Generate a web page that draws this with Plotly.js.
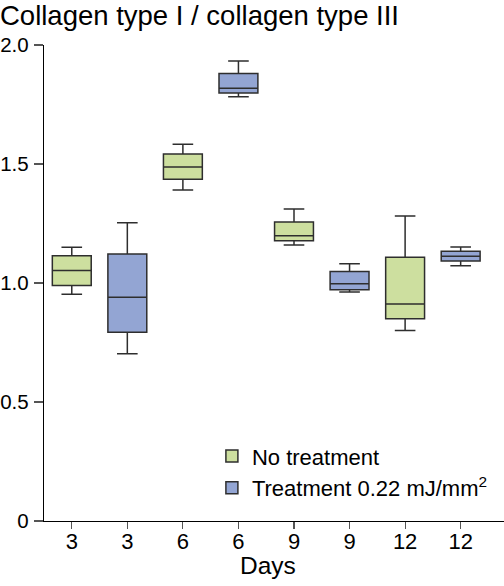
<!DOCTYPE html>
<html>
<head>
<meta charset="utf-8">
<script src="https://cdn.plot.ly/plotly-3.0.1.min.js"></script>
<style>html,body{margin:0;padding:0;background:#fff;}#chart{width:504px;height:586px;}</style>
</head>
<body>
<div id="chart"></div>
<script>
// Categories (one box per slot) and which group each slot belongs to
const dayLabels = ["3", "3", "6", "6", "9", "9", "12", "12"];
const slotGroup = ["none", "treat", "none", "treat", "none", "treat", "none", "treat"];

// No treatment (days 3, 6, 9, 12)
const noneLower  = [0.953, 1.391, 1.160, 0.800];
const noneQ1     = [0.990, 1.436, 1.178, 0.850];
const noneMedian = [1.053, 1.487, 1.199, 0.912];
const noneQ3     = [1.115, 1.542, 1.256, 1.108];
const noneUpper  = [1.150, 1.583, 1.311, 1.282];

// Treatment 0.22 mJ/mm2 (days 3, 6, 9, 12)
const treatLower  = [0.703, 1.783, 0.962, 1.073];
const treatQ1     = [0.793, 1.798, 0.972, 1.092];
const treatMedian = [0.940, 1.818, 0.997, 1.112];
const treatQ3     = [1.122, 1.880, 1.048, 1.133];
const treatUpper  = [1.253, 1.933, 1.081, 1.151];

const yTickVals = [0, 0.5, 1.0, 1.5, 2.0];
const yTickText = ["0", "0.5", "1.0", "1.5", "2.0"];

const slots = dayLabels.map((d, i) => i);
const xNone = slots.filter(i => slotGroup[i] === "none");
const xTreat = slots.filter(i => slotGroup[i] === "treat");

const FONT = "Liberation Sans, Arial, Helvetica, sans-serif";

const common = {
  type: "box",
  width: 0.7,
  whiskerwidth: 0.53,
  boxpoints: false,
  hoverinfo: "skip"
};

const traces = [
  Object.assign({}, common, {
    name: "No treatment",
    x: xNone,
    lowerfence: noneLower, q1: noneQ1, median: noneMedian, q3: noneQ3, upperfence: noneUpper,
    fillcolor: "#cddf9f",
    line: {color: "#2e2e2e", width: 1.5}
  }),
  Object.assign({}, common, {
    name: "Treatment 0.22 mJ/mm<sup>2</sup>",
    x: xTreat,
    lowerfence: treatLower, q1: treatQ1, median: treatMedian, q3: treatQ3, upperfence: treatUpper,
    fillcolor: "#93a5d3",
    line: {color: "#2e2e2e", width: 1.5}
  })
];

const layout = {
  width: 504, height: 586,
  margin: {l: 44, r: 0, t: 45, b: 65, autoexpand: false},
  paper_bgcolor: "#fff", plot_bgcolor: "#fff",
  font: {family: FONT, size: 22, color: "#000"},
  boxmode: "overlay",
  showlegend: true,
  title: {
    text: "Collagen type I / collagen type III",
    font: {family: FONT, size: 27.5, color: "#000"},
    x: 0, xref: "container", xanchor: "left",
    y: 0.973, yref: "container", yanchor: "middle",
    pad: {l: 0, r: 0, t: 0, b: 0}
  },
  xaxis: {
    range: [-0.5, 7.78],
    tickmode: "array",
    tickvals: slots,
    ticktext: dayLabels,
    showgrid: false, zeroline: false,
    showline: true, linecolor: "#000", linewidth: 1.2,
    ticks: "outside", ticklen: 7, tickcolor: "#555", tickwidth: 1.2,
    tickfont: {family: FONT, size: 22},
    ticklabelstandoff: -7
  },
  yaxis: {
    range: [0, 2],
    tickmode: "array",
    tickvals: yTickVals,
    ticktext: yTickText,
    showgrid: false, zeroline: false,
    showline: true, linecolor: "#000", linewidth: 1.2,
    ticks: "outside", ticklen: 9, tickcolor: "#555", tickwidth: 1.2,
    tickfont: {family: FONT, size: 20.5},
    ticklabelstandoff: 1
  },
  annotations: [{
    text: "Days",
    xref: "paper", yref: "paper",
    x: 0.487, y: 0, xanchor: "center", yanchor: "middle",
    yshift: -44,
    showarrow: false,
    font: {family: FONT, size: 24.5, color: "#000"}
  }],
  legend: {
    x: 0.365, xanchor: "left",
    y: 0.18, yanchor: "top",
    bgcolor: "rgba(0,0,0,0)",
    font: {family: FONT, size: 22},
    tracegroupgap: 0
  }
};

Plotly.newPlot("chart", traces, layout, {staticPlot: true, displayModeBar: false});
</script>
</body>
</html>
